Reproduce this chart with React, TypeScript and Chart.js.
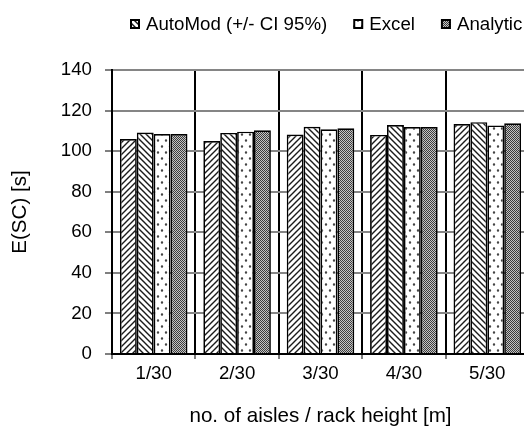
import React, { useEffect, useRef } from "react";
import { Chart, registerables } from "chart.js";

Chart.register(...registerables);

// ---- data ----
const categories = ["1/30", "2/30", "3/30", "4/30", "5/30"];
const seriesLabels = ["Simulation", "AutoMod (+/- CI 95%)", "Excel", "Analytic"];
const simulationValues = [106.0, 105.0, 108.2, 108.0, 113.4];
const autoModValues = [109.2, 109.0, 112.0, 112.9, 114.3];
const excelValues = [108.4, 109.6, 110.8, 111.9, 112.7];
const analyticValues = [108.4, 110.3, 111.3, 111.9, 113.7];
const yTicks = { min: 0, max: 140, step: 20 };
const xTitle = "no. of aisles / rack height [m]";
const yTitle = "E(SC) [s]";

const FONT = "'Liberation Sans', Arial, Helvetica, sans-serif";
const TICK_SIZE = 18.7;
const TITLE_SIZE = 20.6;

// ---- fill patterns for the bars ----
function makePattern(kind: string): CanvasPattern | string {
  const c = document.createElement("canvas");
  const g = c.getContext("2d");
  if (!g) return "#999";
  if (kind === "fwd" || kind === "back") {
    const s = 6;
    c.width = s;
    c.height = s;
    g.fillStyle = "#fff";
    g.fillRect(0, 0, s, s);
    g.strokeStyle = "#1a1a1a";
    g.lineWidth = 1.4;
    g.beginPath();
    if (kind === "fwd") {
      g.moveTo(-1, s + 1);
      g.lineTo(s + 1, -1);
      g.moveTo(-1, 1);
      g.lineTo(1, -1);
      g.moveTo(s - 1, s + 1);
      g.lineTo(s + 1, s - 1);
    } else {
      g.moveTo(-1, -1);
      g.lineTo(s + 1, s + 1);
      g.moveTo(s - 1, -1);
      g.lineTo(s + 1, 1);
      g.moveTo(-1, s - 1);
      g.lineTo(1, s + 1);
    }
    g.stroke();
  } else if (kind === "dots") {
    c.width = 8;
    c.height = 12;
    g.fillStyle = "#fff";
    g.fillRect(0, 0, 8, 12);
    g.fillStyle = "#444";
    g.beginPath();
    g.arc(2, 2.5, 1.2, 0, Math.PI * 2);
    g.closePath();
    g.arc(6, 8.5, 1.2, 0, Math.PI * 2);
    g.fill();
  } else {
    c.width = 2;
    c.height = 2;
    g.fillStyle = "#c4c4c4";
    g.fillRect(0, 0, 2, 2);
    g.fillStyle = "#3c3c3c";
    g.fillRect(0, 0, 1, 1);
    g.fillRect(1, 1, 1, 1);
  }
  return g.createPattern(c, "repeat") || "#999";
}

// ---- legend drawn with the same pattern swatches ----
const patternLegend = {
  id: "patternLegend",
  afterDraw(chart: any) {
    const opts = chart.options.plugins.patternLegend;
    const ctx: CanvasRenderingContext2D = chart.ctx;
    ctx.save();
    ctx.font = `${opts.fontSize}px ${FONT}`;
    ctx.textBaseline = "alphabetic";
    ctx.textAlign = "left";
    let x = opts.x;
    chart.data.datasets.forEach((ds: any) => {
      if (ds.hideInLegend) return;
      const b = opts.box;
      ctx.fillStyle = ds.backgroundColor;
      ctx.fillRect(x, opts.y, b, b);
      ctx.strokeStyle = "#000";
      ctx.lineWidth = 2;
      ctx.strokeRect(x + 1, opts.y + 1, b - 2, b - 2);
      ctx.fillStyle = "#000";
      ctx.fillText(ds.label, x + opts.textGap, opts.baseline);
      x += opts.textGap + ctx.measureText(ds.label).width + opts.gap;
    });
    ctx.restore();
  },
};

export default function App() {
  const canvasRef = useRef<HTMLCanvasElement | null>(null);

  useEffect(() => {
    document.body.style.margin = "0";
    const canvas = canvasRef.current;
    if (!canvas) return;

    const fills = [makePattern("fwd"), makePattern("back"), makePattern("dots"), makePattern("checker")];
    const values = [simulationValues, autoModValues, excelValues, analyticValues];

    const chart = new Chart(canvas, {
      type: "bar",
      data: {
        labels: categories,
        datasets: values.map((v, i) => ({
          label: seriesLabels[i],
          data: v,
          backgroundColor: fills[i] as any,
          borderColor: "#000",
          borderWidth: 1.7,
          categoryPercentage: 0.81,
          barPercentage: 1,
          hideInLegend: i === 0,
        })) as any,
      },
      options: {
        responsive: false,
        animation: false,
        devicePixelRatio: 1,
        layout: { padding: { top: 70, right: 11, bottom: 0, left: 0 } },
        plugins: {
          legend: { display: false },
          tooltip: { enabled: false },
          patternLegend: { x: 130, y: 19, box: 10, textGap: 16, baseline: 30, gap: 26, fontSize: TICK_SIZE },
        } as any,
        scales: {
          x: {
            grid: { color: "#000", lineWidth: 2, tickLength: 5, tickColor: "#000", tickWidth: 1, offset: true },
            border: { color: "#000", width: 2 },
            ticks: { color: "#000", font: { family: FONT, size: TICK_SIZE }, padding: 4, maxRotation: 0 },
            title: {
              display: true,
              text: xTitle,
              color: "#000",
              font: { family: FONT, size: TITLE_SIZE },
              padding: { top: 4, bottom: 1 },
            },
            afterFit: (s: any) => {
              s.height = 76;
            },
          },
          y: {
            min: yTicks.min,
            max: yTicks.max,
            grid: { color: "#858585", lineWidth: 2, tickLength: 7, tickColor: "#000", tickWidth: 1 },
            border: { color: "#000", width: 2 },
            ticks: { stepSize: yTicks.step, color: "#000", font: { family: FONT, size: TICK_SIZE }, padding: 13 },
            title: {
              display: true,
              text: yTitle,
              color: "#000",
              font: { family: FONT, size: TITLE_SIZE },
              padding: { top: 8, bottom: 0 },
            },
            afterFit: (s: any) => {
              s.width = 112;
            },
          },
        },
      },
      plugins: [patternLegend],
    });

    return () => chart.destroy();
  }, []);

  return (
    <div style={{ width: 524, height: 430, overflow: "hidden", position: "relative", background: "#fff" }}>
      <canvas ref={canvasRef} width={540} height={430} style={{ display: "block", width: 540, height: 430 }} />
    </div>
  );
}
